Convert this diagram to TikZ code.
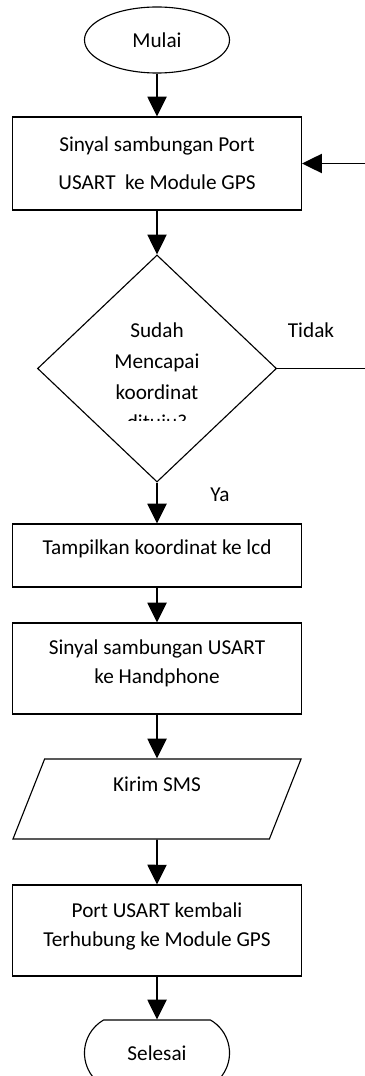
\documentclass[tikz,border=0pt]{standalone}
\usepackage{fontspec}
\setmainfont{Carlito}
\usepackage{tikz}
\usetikzlibrary{shapes,arrows.meta}

\begin{document}
\begin{tikzpicture}[x=0.025cm,y=-0.025cm,
  font=\fontsize{15.1}{20.6}\selectfont,
  proc/.style={rectangle,draw=black,line width=.8pt,minimum width=7.225cm,align=center,inner sep=0pt},
  term/.style={draw=black,line width=.8pt,minimum width=3.625cm,minimum height=1.65cm,inner sep=0pt},
  lift/.style={text depth=#1},
  arr/.style={line width=1.4pt,-{Triangle[length=14pt,width=13.5pt]}}]
\useasboundingbox (0,0) rectangle (365,1076);
\node at (157,40) [ellipse,term] (start) {Mulai};
\node at (157,163.5) [proc,minimum height=2.325cm] (sinyal) {Sinyal sambungan Port\\[6.5pt]USART~ ke Module GPS};
\node at (157,368.5) [diamond,draw=black,line width=.8pt,minimum width=5.975cm,minimum height=5.675cm,inner sep=0pt] (cek) {};
\begin{scope}
\clip (100,300) rectangle (215,420);
\node at (157,378) [align=center,font=\fontsize{15.1}{22}\selectfont] (cektxt) {Sudah\\Mencapai\\koordinat\\dituju?};
\end{scope}
\node at (311,330) (tidak) {Tidak};
\node at (220,495) (ya) {Ya};
\node at (157,555.5) [proc,minimum height=1.575cm,text height=10pt,lift=11.7pt] (tampil) {Tampilkan koordinat ke lcd};
\node at (157,668.5) [proc,minimum height=2.275cm,lift=9.6pt] (hp) {Sinyal sambungan USART\\ke Handphone};
\node at (157,799) [trapezium,draw=black,line width=.8pt,trapezium left angle=54,trapezium right angle=126,trapezium stretches body,minimum width=7.2cm,minimum height=2cm,inner sep=0pt,text height=10pt,lift=21pt] (sms) {Kirim SMS};
\node at (157,930.5) [proc,minimum height=2.275cm,lift=8.8pt] (kembali) {Port USART kembali\\Terhubung ke Module GPS};
\node at (157,1053) [rounded rectangle,term,rounded rectangle arc length=120] (stop) {Selesai};
\coordinate (tepi) at (367,368.5);
\draw[arr] (start) -- (sinyal);
\draw[arr] (sinyal) -- (cek);
\draw[arr] (cek) -- (tampil);
\draw[arr] (tampil) -- (hp);
\draw[arr] (hp) -- (sms);
\draw[arr] (sms) -- (kembali);
\draw[arr] (kembali) -- (stop);
\draw[arr] (cek.east) -- (tepi) |- (sinyal.east);
\end{tikzpicture}
\end{document}
